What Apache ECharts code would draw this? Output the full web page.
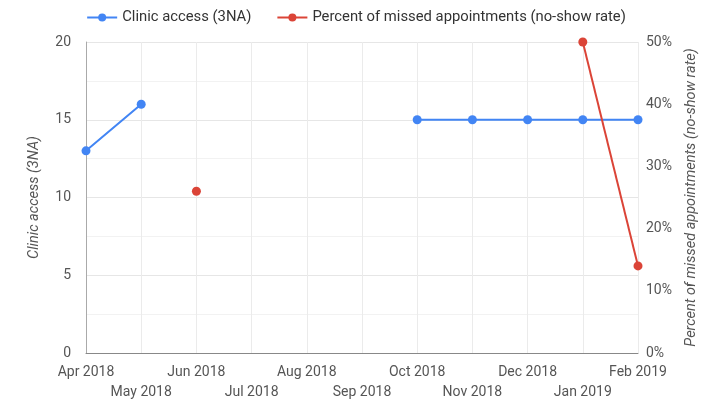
<!DOCTYPE html>
<html>
<head>
<meta charset="utf-8">
<script src="https://cdn.jsdelivr.net/npm/echarts@6/dist/echarts.min.js"></script>
<style>
  html, body { margin: 0; padding: 0; background: #fff; }
  #chart { width: 712px; height: 403px; }
</style>
</head>
<body>
<div id="chart"></div>
<script>
// Monthly categories
const months = ['Apr 2018', 'May 2018', 'Jun 2018', 'Jul 2018', 'Aug 2018', 'Sep 2018',
                'Oct 2018', 'Nov 2018', 'Dec 2018', 'Jan 2019', 'Feb 2019'];
// Clinic access (3NA), left axis
const clinicAccess = [13, 16, null, null, null, null, 15, 15, 15, 15, 15];
// No-show rate in percent, right axis
const noShowRate = [null, null, 26, null, null, null, null, null, null, 50, 14];

const leftTicks = { min: 0, max: 20, interval: 5 };
const rightTicks = { min: 0, max: 50, interval: 10 };

const FONT = 'Roboto';
const chart = echarts.init(document.getElementById('chart'));
chart.setOption({
  animation: false,
  textStyle: { fontFamily: FONT },
  legend: {
    top: 5,
    left: 'center',
    itemWidth: 30,
    itemHeight: 10,
    itemGap: 25,
    textStyle: { fontFamily: FONT, fontSize: 14.8, color: '#333' },
    data: ['Clinic access (3NA)', 'Percent of missed appointments (no-show rate)']
  },
  grid: { left: 86, right: 74, top: 42, bottom: 50, containLabel: false },
  xAxis: {
    type: 'category',
    data: months,
    boundaryGap: false,
    axisLine: { show: true, lineStyle: { color: '#888', width: 1 } },
    axisTick: { show: false },
    splitLine: { show: true, lineStyle: { color: '#ebebeb' } },
    axisLabel: {
      interval: 0,
      color: '#555',
      fontSize: 14,
      margin: 9,
      lineHeight: 20,
      formatter: (v, i) => (i % 2 === 1 ? '\n' + v : v)
    }
  },
  yAxis: [
    {
      type: 'value',
      min: leftTicks.min, max: leftTicks.max, interval: leftTicks.interval,
      name: 'Clinic access (3NA)',
      nameLocation: 'middle',
      nameGap: 44,
      nameTextStyle: { fontStyle: 'italic', color: '#555', fontSize: 14.5 },
      axisLine: { show: true, lineStyle: { color: '#aaa' } },
      axisTick: { show: false },
      axisLabel: { color: '#555', fontSize: 14, margin: 15 },
      splitLine: { show: true, lineStyle: { color: '#e6e6e6' } },
      minorTick: { show: false, splitNumber: 2 },
      minorSplitLine: { show: true, lineStyle: { color: '#f2f2f2' } }
    },
    {
      type: 'value',
      min: rightTicks.min, max: rightTicks.max, interval: rightTicks.interval,
      name: 'Percent of missed appointments (no-show rate)',
      nameLocation: 'middle',
      nameGap: 46,
      nameRotate: 90,
      nameTextStyle: { fontStyle: 'italic', color: '#555', fontSize: 14.5 },
      axisLine: { show: false },
      axisTick: { show: false },
      axisLabel: { color: '#555', fontSize: 14, margin: 8, formatter: '{value}%' },
      splitLine: { show: false }
    }
  ],
  series: [
    {
      name: 'Clinic access (3NA)',
      type: 'line',
      yAxisIndex: 0,
      data: clinicAccess,
      connectNulls: false,
      symbol: 'circle',
      symbolSize: 9,
      itemStyle: { color: '#4285f4' },
      lineStyle: { color: '#4285f4', width: 2 }
    },
    {
      name: 'Percent of missed appointments (no-show rate)',
      type: 'line',
      yAxisIndex: 1,
      data: noShowRate,
      connectNulls: false,
      symbol: 'circle',
      symbolSize: 9,
      itemStyle: { color: '#db4437' },
      lineStyle: { color: '#db4437', width: 2 }
    }
  ]
});
</script>
</body>
</html>
